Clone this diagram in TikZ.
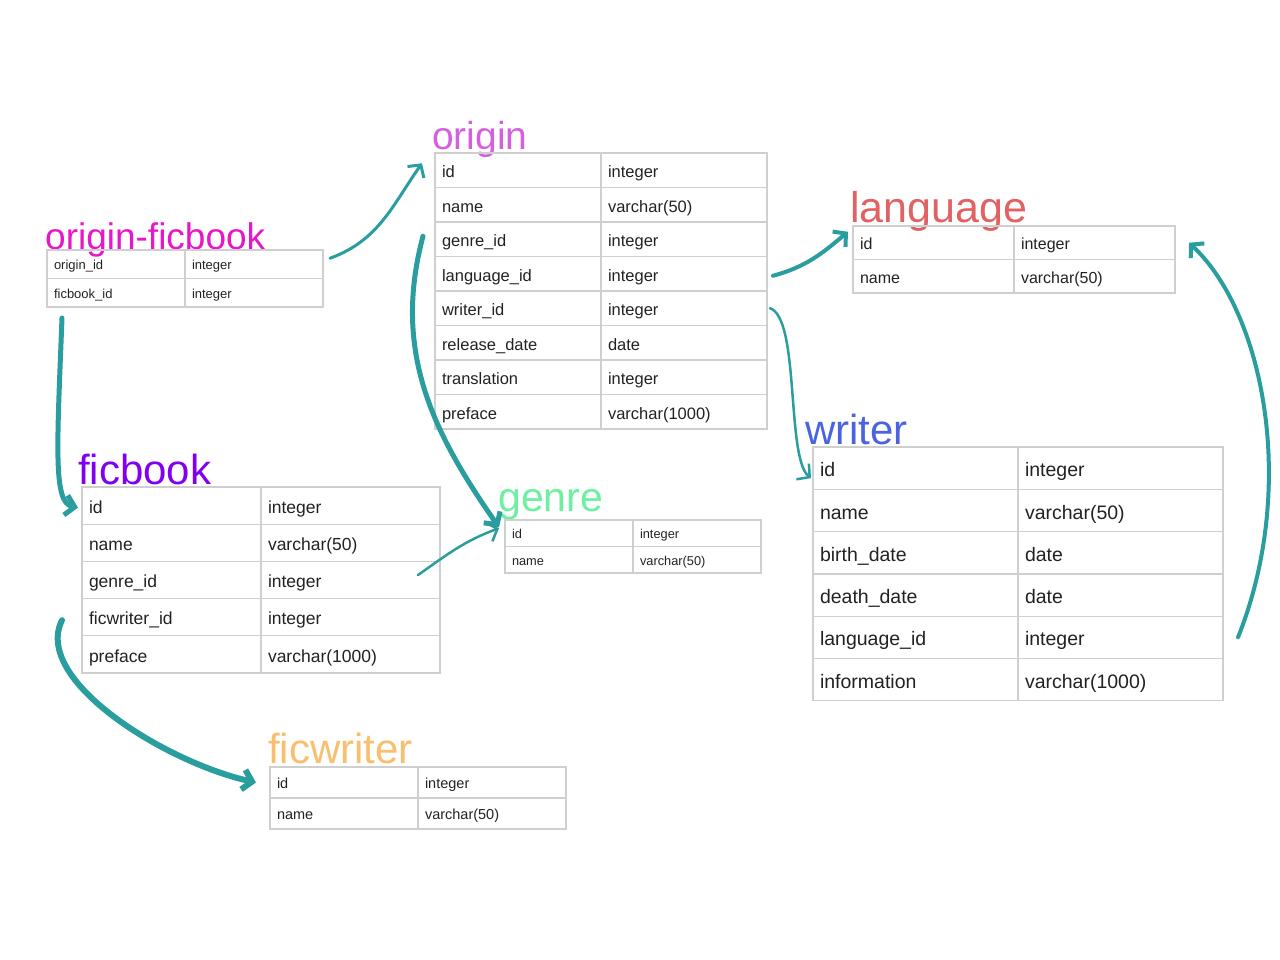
\documentclass[tikz,border=0pt]{standalone}
\usepackage{fontspec}
\setmainfont{Liberation Sans}
\usetikzlibrary{positioning,arrows.meta}

\definecolor{linkc}{HTML}{2A9D9F}
\definecolor{gridc}{HTML}{CFCFCF}
\definecolor{cellc}{HTML}{222222}
\definecolor{ofbc}{HTML}{E617C8}
\definecolor{originc}{HTML}{D55FE0}
\definecolor{langc}{HTML}{E06262}
\definecolor{writerc}{HTML}{4A63E0}
\definecolor{ficbookc}{HTML}{8000F0}
\definecolor{genrec}{HTML}{6EF0A0}
\definecolor{ficwriterc}{HTML}{F9BE6E}

\tikzset{
  cell/.style={draw=gridc, line width=1.2pt, rectangle, outer sep=0pt, inner xsep=7pt, inner ysep=0pt,
    anchor=north west, align=left, text=cellc, execute at begin node={\rule[-0.25em]{0pt}{1.38em}}},
  tab/.style n args={3}{font=\fontsize{#1}{#1}\selectfont, text width=#2, minimum height=#3},
  title/.style={anchor=base west, inner sep=0pt},
  link/.style={draw=linkc, line cap=round, -{Straight Barb[length=9pt,width=20pt]}},
}

\begin{document}
\begin{tikzpicture}[x=1pt,y=-1pt]
  \useasboundingbox (0,0) rectangle (1280,960);

  % origin-ficbook
  \node[title, text=ofbc, font=\fontsize{37}{40}\selectfont] (ofb) at (45,250) {origin-ficbook};
  \foreach \fld/\typ [count=\i] in {origin\_id/integer, ficbook\_id/integer}{
    \node[cell, tab={13}{124pt}{28.5pt}] (ofbk\i) at (47,{250+28.5*(\i-1)}) {\fld};
    \node[cell, tab={13}{124pt}{28.5pt}, right=0pt of ofbk\i] (ofbt\i) {\typ};
  }

  % origin
  \node[title, text=originc, font=\fontsize{39}{42}\selectfont] (origin) at (432,150) {origin};
  \foreach \fld/\typ [count=\i] in {id/integer, name/varchar(50), genre\_id/integer, language\_id/integer,
      writer\_id/integer, release\_date/date, translation/integer, preface/varchar(1000)}{
    \node[cell, tab={16.5}{152pt}{34.5pt}] (ok\i) at (435,{153+34.5*(\i-1)}) {\fld};
    \node[cell, tab={16.5}{152pt}{34.5pt}, right=0pt of ok\i] (ot\i) {\typ};
  }

  % language
  \node[title, text=langc, font=\fontsize{43}{46}\selectfont] (language) at (850,223) {language};
  \foreach \fld/\typ [count=\i] in {id/integer, name/varchar(50)}{
    \node[cell, tab={16}{147pt}{33.5pt}] (lk\i) at (853,{226+33.5*(\i-1)}) {\fld};
    \node[cell, tab={16}{147pt}{33.5pt}, right=0pt of lk\i] (lt\i) {\typ};
  }

  % writer
  \node[title, text=writerc, font=\fontsize{42}{45}\selectfont] (writer) at (805,444) {writer};
  \foreach \fld/\typ [count=\i] in {id/integer, name/varchar(50), birth\_date/date, death\_date/date,
      language\_id/integer, information/varchar(1000)}{
    \node[cell, tab={19.5}{191pt}{42.3pt}] (wk\i) at (813,{447+42.3*(\i-1)}) {\fld};
    \node[cell, tab={19.5}{191pt}{42.3pt}, right=0pt of wk\i] (wt\i) {\typ};
  }

  % ficbook
  \node[title, text=ficbookc, font=\fontsize{42}{45}\selectfont] (ficbook) at (78,484) {ficbook};
  \foreach \fld/\typ [count=\i] in {id/integer, name/varchar(50), genre\_id/integer,
      ficwriter\_id/integer, preface/varchar(1000)}{
    \node[cell, tab={17.5}{165pt}{37.2pt}] (fk\i) at (82,{487+37.2*(\i-1)}) {\fld};
    \node[cell, tab={17.5}{165pt}{37.2pt}, right=0pt of fk\i] (ft\i) {\typ};
  }

  % genre
  \node[title, text=genrec, font=\fontsize{41}{44}\selectfont] (genre) at (498,511) {genre};
  \foreach \fld/\typ [count=\i] in {id/integer, name/varchar(50)}{
    \node[cell, tab={12.8}{114pt}{26.5pt}] (gk\i) at (505,{520+26.5*(\i-1)}) {\fld};
    \node[cell, tab={12.8}{114pt}{26.5pt}, right=0pt of gk\i] (gt\i) {\typ};
  }

  % ficwriter
  \node[title, text=ficwriterc, font=\fontsize{42}{45}\selectfont] (ficwriter) at (268,763) {ficwriter};
  \foreach \fld/\typ [count=\i] in {id/integer, name/varchar(50)}{
    \node[cell, tab={14.5}{134pt}{31pt}] (fwk\i) at (270,{767+31*(\i-1)}) {\fld};
    \node[cell, tab={14.5}{134pt}{31pt}, right=0pt of fwk\i] (fwt\i) {\typ};
  }

  % links
  \draw[link, line width=3pt] ([xshift=7pt,yshift=6pt]ofbt1.east) to[out=20,in=235] ([xshift=-13pt,yshift=7pt]ok1.west);
  \draw[link, line width=5pt] ([xshift=15pt,yshift=-11pt]ofbk2.south west) .. controls +(-5,130) and +(-25,-5) .. ([xshift=-4pt,yshift=-2pt]fk1.west);
  \draw[link, line width=5pt] ([xshift=-12pt,yshift=3pt]ok3.west) to[out=255,in=125] ([xshift=-6pt,yshift=6pt]gk1.west);
  \draw[link, line width=2.5pt] ([xshift=-22pt,yshift=5pt]ft3.east) to[out=35,in=200] ([xshift=-6pt,yshift=5pt]gk1.west);
  \draw[link, line width=4pt] ([xshift=6pt,yshift=-2pt]ot4.east) to[out=15,in=220] ([xshift=-5pt,yshift=11pt]lk1.west);
  \draw[link, line width=2.5pt] ([xshift=3pt]ot5.east) .. controls +(30,10) and +(-25,-20) .. ([xshift=-2pt,yshift=-10pt]wk1.west);
  \draw[link, line width=4pt] ([xshift=15pt]wt5.east) .. controls +(60,-150) and +(75,70) .. ([xshift=14pt]lt1.east);
  \draw[link, line width=6pt] ([xshift=-20pt,yshift=-3pt]fk4.west) .. controls +(-30,60) and +(-90,-20) .. ([xshift=-14pt]fwk1.west);
\end{tikzpicture}
\end{document}
